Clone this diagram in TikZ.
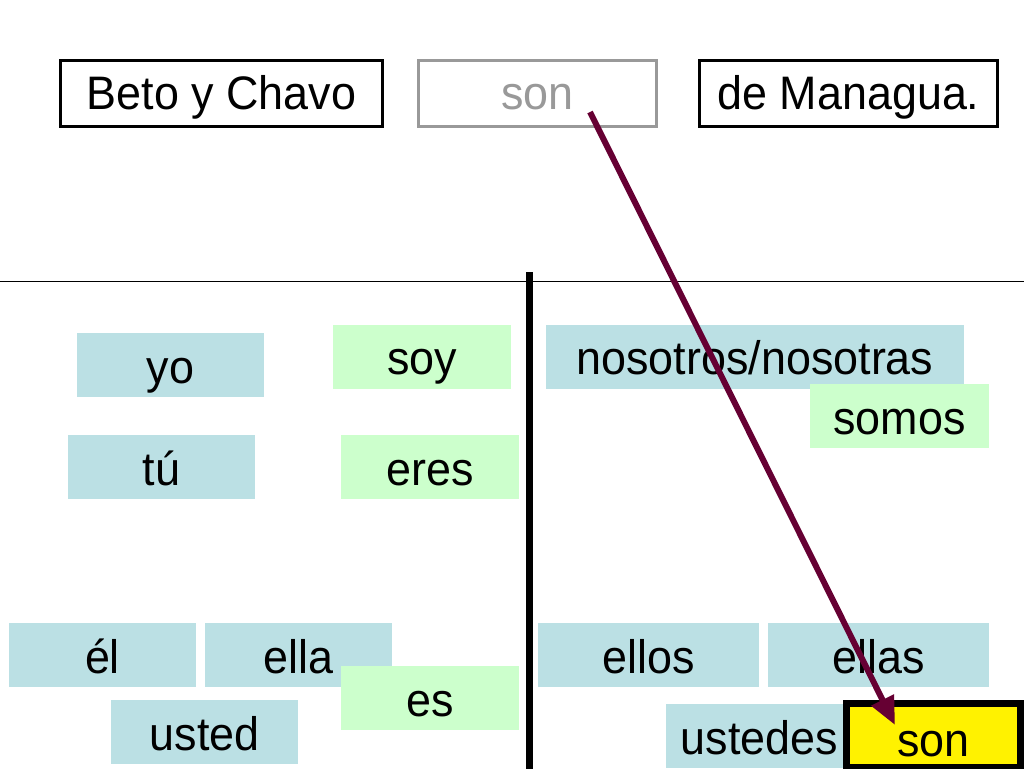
\documentclass[tikz,border=0pt]{standalone}
\usepackage{fontspec}
\setmainfont{Liberation Sans}[FakeStretch=0.955]
\usepackage{xcolor}
\usetikzlibrary{positioning,arrows.meta}
\definecolor{pronblue}{RGB}{187,224,228}
\definecolor{verbgreen}{RGB}{204,255,204}
\definecolor{arrred}{RGB}{102,0,51}
\definecolor{framegray}{RGB}{153,153,153}
\begin{document}
\begin{tikzpicture}[x=1pt, y=-1pt,
    every node/.style = {font=\fontsize{47}{56}\selectfont, inner sep=0pt},
      card/.style = {minimum width=#1, text height=50pt, text depth=14pt},
      pron/.style = {card=#1, fill=pronblue},
      verb/.style = {card=#1, fill=verbgreen},
      word/.style = {draw, line width=3pt, minimum width=#1,
                     text height=49pt, text depth=17pt},
       arr/.style = {line width=6pt, arrred,
                     -{Triangle[length=28pt, width=24pt]}},
                    ]
    \useasboundingbox (0,0) rectangle (1024,768);
    %% sentence
    \node[word=322] (beto) at (221.5,93.5) {Beto y Chavo};
    \node[word=238, draw=framegray, text=framegray] (sonQ) at (537.5,93.5) {son};
    \node[word=298] (mana) at (848.5,93.5) {de Managua.};
    %% rules
    \draw[line width=1.2pt] (0,281.5) -- (1024,281.5);
    \draw[line width=7pt] (529,272) -- (529,775);
    %% singular
    \node[pron=187] (yo)    at (170.5,365)   {yo};
    \node[verb=178] (soy)   at (422,356.5)   {soy};
    \node[pron=187] (tu)    at (161.5,467)   {tú};
    \node[verb=178] (eres)  at (430,467)     {eres};
    \node[pron=187] (el)    at (102.5,655)   {él};
    \node[pron=187] (ella)  at (298.5,655)   {ella};
    \node[verb=178] (es)    at (430,698)     {es};
    \node[pron=187] (usted) at (204.5,732)   {usted};
    %% plural
    \node[pron=418] (nos)   at (755,356.5)   {nosotros/nosotras};
    \node[verb=179] (somos) at (899.5,416)   {somos};
    \node[pron=221] (ellos) at (648.5,655)   {ellos};
    \node[pron=221] (ellas) at (878.5,655)   {ellas};
    \node[pron=187] (ustds) at (759.5,736)   {ustedes};
    \node[card=174, text height=53pt, text depth=11pt, fill=yellow,
          draw, line width=7pt] (sonA) at (933.5,735.5) {son};
    %% arrow
    \draw[arr] ([xshift=52.5pt, yshift=-18.5pt]sonQ.center)
            -- ([xshift=-38.5pt, yshift=10.5pt]sonA.center);
\end{tikzpicture}
\end{document}
